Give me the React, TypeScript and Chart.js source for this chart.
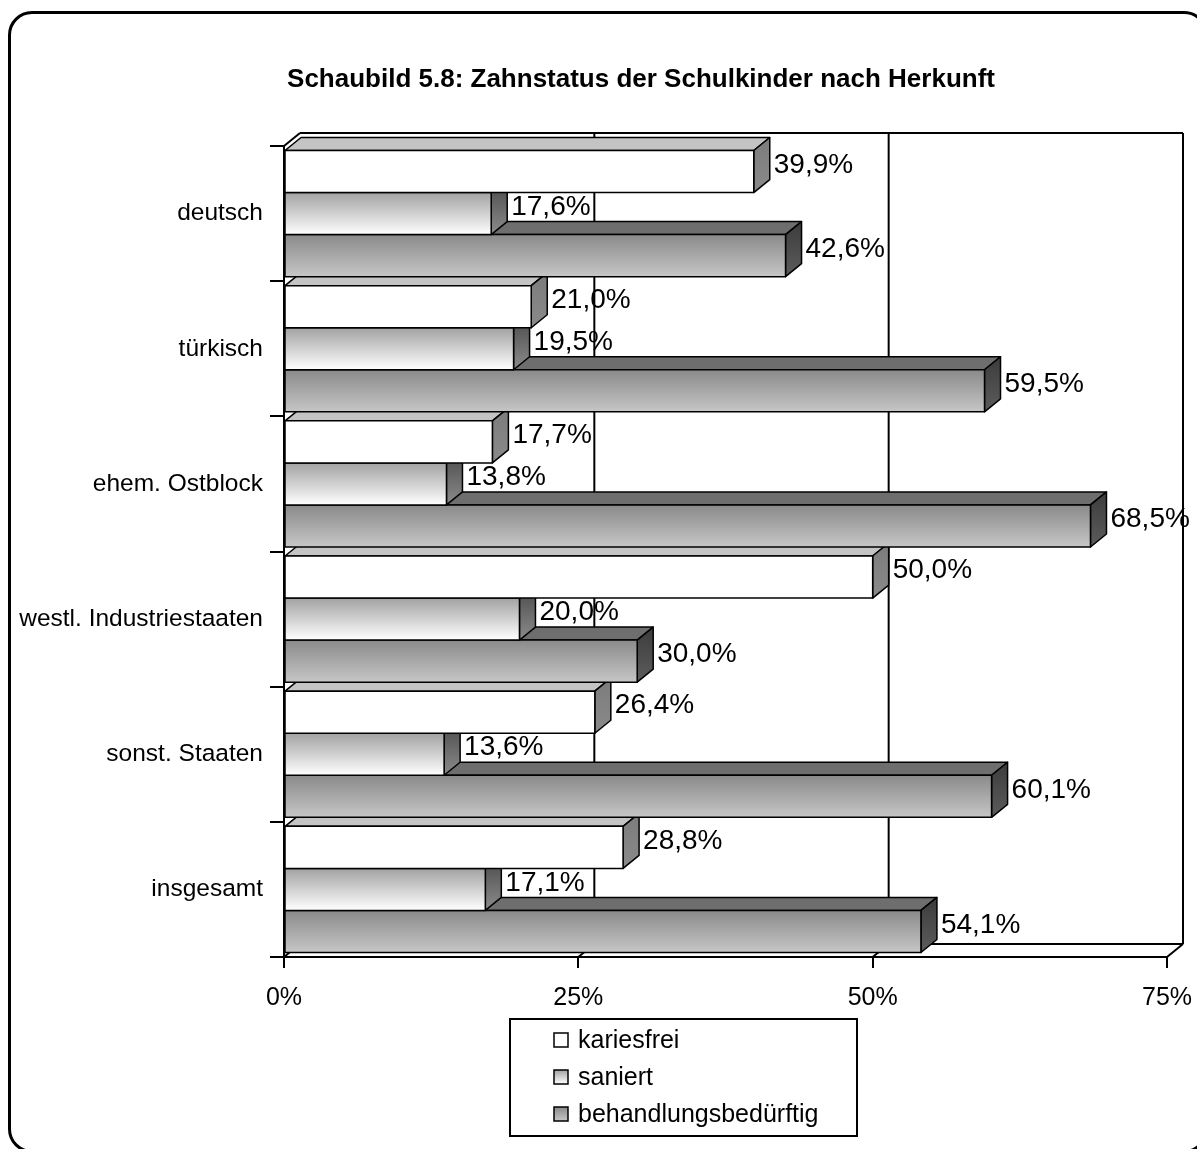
import { useEffect, useRef } from "react";
import { Chart, registerables } from "chart.js";

Chart.register(...registerables);

// ---- data ----
const categories = [
  "deutsch",
  "türkisch",
  "ehem. Ostblock",
  "westl. Industriestaaten",
  "sonst. Staaten",
  "insgesamt",
];
const seriesNames = ["kariesfrei", "saniert", "behandlungsbedürftig"];
const kariesfrei = [39.9, 21.0, 17.7, 50.0, 26.4, 28.8];
const saniert = [17.6, 19.5, 13.8, 20.0, 13.6, 17.1];
const behandlungsbeduerftig = [42.6, 59.5, 68.5, 30.0, 60.1, 54.1];
const axisMin = 0;
const axisMax = 75;
const axisStep = 25;
const titleText = "Schaubild 5.8: Zahnstatus der Schulkinder nach Herkunft";

// ---- look ----
const W = 1197;
const H = 1149;
const FONT = "'Liberation Sans', Arial, Helvetica, sans-serif";
const DX = 16; // depth offset of the 3D walls / bars
const DY = -13;

type FaceStyle = { front: [string, string]; top: string; side: [string, string] };
const faceStyles: FaceStyle[] = [
  { front: ["#ffffff", "#ffffff"], top: "#c4c4c4", side: ["#7c7c7c", "#8a8a8a"] },
  { front: ["#a2a2a2", "#ffffff"], top: "#8c8c8c", side: ["#474747", "#8c8c8c"] },
  { front: ["#8a8a8a", "#c6c6c6"], top: "#6e6e6e", side: ["#3c3c3c", "#5c5c5c"] },
];

const fmtPct = (v: number) => v.toFixed(1).replace(".", ",") + "%";

function poly(ctx: CanvasRenderingContext2D, pts: number[][], fill: string | CanvasGradient) {
  ctx.beginPath();
  ctx.moveTo(pts[0][0], pts[0][1]);
  for (let i = 1; i < pts.length; i++) ctx.lineTo(pts[i][0], pts[i][1]);
  ctx.closePath();
  ctx.fillStyle = fill;
  ctx.fill();
  ctx.stroke();
}

function line(ctx: CanvasRenderingContext2D, x1: number, y1: number, x2: number, y2: number) {
  ctx.beginPath();
  ctx.moveTo(x1, y1);
  ctx.lineTo(x2, y2);
  ctx.stroke();
}

function drawBox(
  ctx: CanvasRenderingContext2D,
  x0: number,
  x1: number,
  yT: number,
  yB: number,
  s: FaceStyle
) {
  ctx.lineWidth = 1.5;
  ctx.strokeStyle = "#000";
  ctx.lineJoin = "round";
  // top face
  poly(ctx, [[x0, yT], [x0 + DX, yT + DY], [x1 + DX, yT + DY], [x1, yT]], s.top);
  // side face
  const sg = ctx.createLinearGradient(0, yT + DY, 0, yB);
  sg.addColorStop(0, s.side[0]);
  sg.addColorStop(1, s.side[1]);
  poly(ctx, [[x1, yT], [x1 + DX, yT + DY], [x1 + DX, yB + DY], [x1, yB]], sg);
  // front face
  const fg = ctx.createLinearGradient(0, yT, 0, yB);
  fg.addColorStop(0, s.front[0]);
  fg.addColorStop(1, s.front[1]);
  poly(ctx, [[x0, yT], [x1, yT], [x1, yB], [x0, yB]], fg);
}

// walls, floor, 3D bars and value labels
const box3dPlugin = {
  id: "box3d",
  beforeDatasetsDraw(chart: any) {
    const ctx: CanvasRenderingContext2D = chart.ctx;
    const { left, right, top, bottom } = chart.chartArea;
    const xs = chart.scales.x;
    ctx.save();
    ctx.strokeStyle = "#000";
    ctx.lineWidth = 2;

    // back wall + floor
    ctx.fillStyle = "#fff";
    ctx.fillRect(left + DX, top + DY, right - left, bottom - top);
    line(ctx, left + DX, top + DY, right + DX, top + DY);
    line(ctx, right + DX, top + DY, right + DX, bottom + DY);
    line(ctx, left + DX, bottom + DY, right + DX, bottom + DY);
    line(ctx, left, top, left + DX, top + DY);
    line(ctx, left, bottom, left + DX, bottom + DY);
    line(ctx, right, bottom, right + DX, bottom + DY);
    for (let v = axisMin + axisStep; v < axisMax; v += axisStep) {
      const px = xs.getPixelForValue(v);
      line(ctx, px + DX, top + DY, px + DX, bottom + DY);
      line(ctx, px, bottom, px + DX, bottom + DY);
    }

    // bars, drawn bottom-up so upper fronts cover lower top faces
    const metas = chart.data.datasets.map((_: any, i: number) => chart.getDatasetMeta(i));
    const n = chart.data.labels.length;
    const labels: { x: number; y: number; t: string }[] = [];
    for (let j = n - 1; j >= 0; j--) {
      for (let i = metas.length - 1; i >= 0; i--) {
        const el = metas[i].data[j];
        const p = el.getProps(["x", "y", "base", "height"], true);
        const yT = p.y - p.height / 2;
        const yB = p.y + p.height / 2;
        drawBox(ctx, p.base, p.x, yT, yB, faceStyles[i]);
        labels.push({
          x: p.x + DX + 4,
          y: p.y + DY / 2,
          t: fmtPct(chart.data.datasets[i].data[j]),
        });
      }
    }

    ctx.fillStyle = "#000";
    ctx.font = `28px ${FONT}`;
    ctx.textAlign = "left";
    ctx.textBaseline = "middle";
    for (const l of labels) ctx.fillText(l.t, l.x, l.y);
    ctx.restore();
    return false;
  },
  afterDraw(chart: any) {
    const ctx: CanvasRenderingContext2D = chart.ctx;
    ctx.save();
    // title
    ctx.fillStyle = "#000";
    ctx.font = `bold 26px ${FONT}`;
    ctx.textAlign = "center";
    ctx.textBaseline = "middle";
    ctx.fillText(titleText, 641, 80);

    // legend box
    const lx = 510, ly = 1019, lw = 347, lh = 117;
    ctx.fillStyle = "#fff";
    ctx.fillRect(lx, ly, lw, lh);
    ctx.strokeStyle = "#000";
    ctx.lineWidth = 2;
    ctx.strokeRect(lx, ly, lw, lh);
    ctx.font = `25px ${FONT}`;
    ctx.textAlign = "left";
    const rowGap = 37;
    const firstRow = ly + 21;
    chart.data.datasets.forEach((ds: any, i: number) => {
      const cy = firstRow + i * rowGap;
      const m = 14;
      const g = ctx.createLinearGradient(0, cy - m / 2, 0, cy + m / 2);
      g.addColorStop(0, faceStyles[i].front[0]);
      g.addColorStop(1, faceStyles[i].front[1]);
      ctx.fillStyle = g;
      ctx.fillRect(554, cy - m / 2, m, m);
      ctx.lineWidth = 1.5;
      ctx.strokeRect(554, cy - m / 2, m, m);
      ctx.fillStyle = "#000";
      ctx.fillText(ds.label, 578, cy + 1);
    });
    ctx.restore();
  },
};

export default function App() {
  const canvasRef = useRef<HTMLCanvasElement>(null);

  useEffect(() => {
    const canvas = canvasRef.current;
    if (!canvas) return;
    const seriesValues = [kariesfrei, saniert, behandlungsbeduerftig];
    const chart = new Chart(canvas, {
      type: "bar",
      data: {
        labels: categories,
        datasets: seriesNames.map((name, i) => ({
          label: name,
          data: seriesValues[i],
          backgroundColor: faceStyles[i].front[1],
          borderColor: "#000",
          borderWidth: 1.5,
          categoryPercentage: 0.933,
          barPercentage: 1,
        })),
      },
      options: {
        indexAxis: "y",
        responsive: false,
        animation: false,
        devicePixelRatio: 1,
        layout: { padding: { left: 0, right: 30, top: 146, bottom: 0 } },
        plugins: {
          legend: { display: false },
          title: { display: false },
          tooltip: { enabled: false },
        },
        scales: {
          x: {
            type: "linear",
            position: "bottom",
            min: axisMin,
            max: axisMax,
            ticks: {
              stepSize: axisStep,
              color: "#000",
              font: { family: FONT, size: 25 },
              padding: 15,
              callback: (v: any) => `${v}%`,
            },
            grid: {
              drawOnChartArea: false,
              drawTicks: true,
              tickLength: 11,
              color: "#000",
              lineWidth: 2,
            },
            border: { display: true, color: "#000", width: 2, z: 1 },
            afterFit: (scale: any) => {
              scale.height = H - 957;
              scale.paddingLeft = 0;
              scale.paddingRight = 0;
            },
          },
          y: {
            type: "category",
            ticks: {
              color: "#000",
              font: { family: FONT, size: 24.5 },
              padding: 7,
            },
            grid: {
              offset: true,
              drawOnChartArea: false,
              drawTicks: true,
              tickLength: 14,
              color: "#000",
              lineWidth: 2,
            },
            border: { display: true, color: "#000", width: 2, z: 1 },
            afterFit: (scale: any) => {
              scale.width = 284;
              scale.paddingTop = 0;
              scale.paddingBottom = 0;
            },
          },
        },
      },
      plugins: [box3dPlugin],
    } as any);
    return () => chart.destroy();
  }, []);

  return (
    <div
      style={{
        position: "absolute",
        left: 0,
        top: 0,
        width: W,
        height: H,
        overflow: "hidden",
        background: "#fff",
      }}
    >
      <div
        style={{
          position: "absolute",
          left: 8,
          top: 11,
          width: 1200,
          height: 1142,
          border: "3px solid #000",
          borderRadius: 24,
          boxSizing: "border-box",
        }}
      />
      <canvas
        ref={canvasRef}
        width={W}
        height={H}
        style={{ position: "absolute", left: 0, top: 0, width: W, height: H }}
      />
    </div>
  );
}
